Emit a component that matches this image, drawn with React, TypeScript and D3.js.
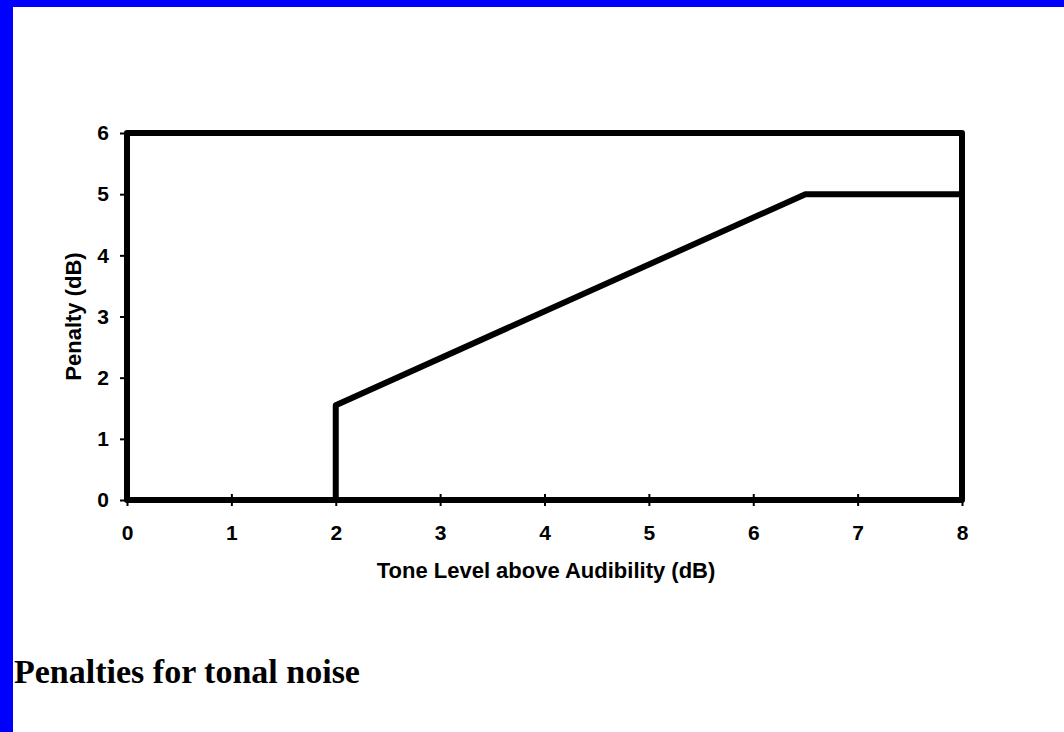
import React, { useRef, useEffect } from 'react';
import * as d3 from 'd3';

// penalty curve (x = tone level above audibility, y = penalty)
const toneLevel: number[] = [0, 2, 2, 6.5, 8];
const penalty: number[] = [0, 0, 1.55, 5, 5];

const xTicks: number[] = [0, 1, 2, 3, 4, 5, 6, 7, 8];
const yTicks: number[] = [0, 1, 2, 3, 4, 5, 6];

const xTitle = 'Tone Level above Audibility (dB)';
const yTitle = 'Penalty (dB)';
const caption = 'Penalties for tonal noise';

const W = 1064;
const H = 732;

const App: React.FC = () => {
  const svgRef = useRef<SVGSVGElement>(null);

  useEffect(() => {
    if (!svgRef.current) return;
    const svg = d3.select(svgRef.current);
    svg.selectAll('*').remove();

    const margin = { top: 133, right: 102, bottom: 232, left: 127 };

    const x = d3.scaleLinear().domain([0, 8]).range([margin.left, W - margin.right]);
    const y = d3.scaleLinear().domain([0, 6]).range([H - margin.bottom, margin.top]);

    // page background with the blue edge
    svg.append('rect').attr('width', W).attr('height', H).attr('fill', '#ffffff');
    svg.append('rect').attr('width', W).attr('height', 7).attr('fill', '#0000ff');
    svg.append('rect').attr('width', 13).attr('height', H).attr('fill', '#0000ff');

    const font = '"Liberation Sans", Arial, sans-serif';

    // left axis
    const yAxis = svg.append('g')
      .attr('transform', `translate(${x(0)},0)`)
      .attr('font-size', 21)
      .call(d3.axisLeft(y).tickValues(yTicks).tickSize(7).tickPadding(11).tickFormat(d3.format('d')));
    yAxis.attr('font-size', 21).attr('font-family', font);
    yAxis.select('.domain').remove();
    yAxis.selectAll('line').attr('stroke', '#000').attr('stroke-width', 2);
    yAxis.selectAll('text')
      .attr('font-size', 21).attr('font-weight', 'bold').attr('fill', '#000');

    // bottom axis (ticks cross the line)
    const xAxis = svg.append('g')
      .attr('transform', `translate(0,${y(0)})`)
      .call(d3.axisBottom(x).tickValues(xTicks).tickSize(6).tickPadding(19).tickFormat(d3.format('d')));
    xAxis.attr('font-size', 21).attr('font-family', font);
    xAxis.select('.domain').remove();
    xAxis.selectAll('line').attr('y1', -6).attr('stroke', '#000').attr('stroke-width', 2);
    xAxis.selectAll('text')
      .attr('font-size', 21).attr('font-weight', 'bold').attr('fill', '#000');

    // frame
    svg.append('rect')
      .attr('x', x(0)).attr('y', y(6))
      .attr('width', x(8) - x(0)).attr('height', y(0) - y(6))
      .attr('fill', 'none').attr('stroke', '#000').attr('stroke-width', 6)
      .attr('stroke-linejoin', 'round');

    // penalty line
    const pts: [number, number][] = toneLevel.map((t, i) => [t, penalty[i]]);
    const line = d3.line<[number, number]>().x(d => x(d[0])).y(d => y(d[1]));
    svg.append('path')
      .attr('d', line(pts))
      .attr('fill', 'none').attr('stroke', '#000').attr('stroke-width', 6)
      .attr('stroke-linejoin', 'round');

    // axis titles
    svg.append('text')
      .attr('x', 546).attr('y', 578)
      .attr('text-anchor', 'middle')
      .style('font-family', font).style('font-weight', 'bold').style('font-size', '22px')
      .text(xTitle);

    svg.append('text')
      .attr('transform', `translate(81,${(y(0) + y(6)) / 2}) rotate(-90)`)
      .attr('text-anchor', 'middle')
      .style('font-family', font).style('font-weight', 'bold').style('font-size', '22px')
      .text(yTitle);

    // caption below the chart
    svg.append('text')
      .attr('x', 14).attr('y', 683)
      .style('font-family', '"Liberation Serif", "Times New Roman", serif')
      .style('font-weight', 'bold').style('font-size', '34px')
      .text(caption);
  }, []);

  return (
    <svg ref={svgRef} width={W} height={H} style={{ position: 'absolute', left: 0, top: 0 }} />
  );
};

export default App;
